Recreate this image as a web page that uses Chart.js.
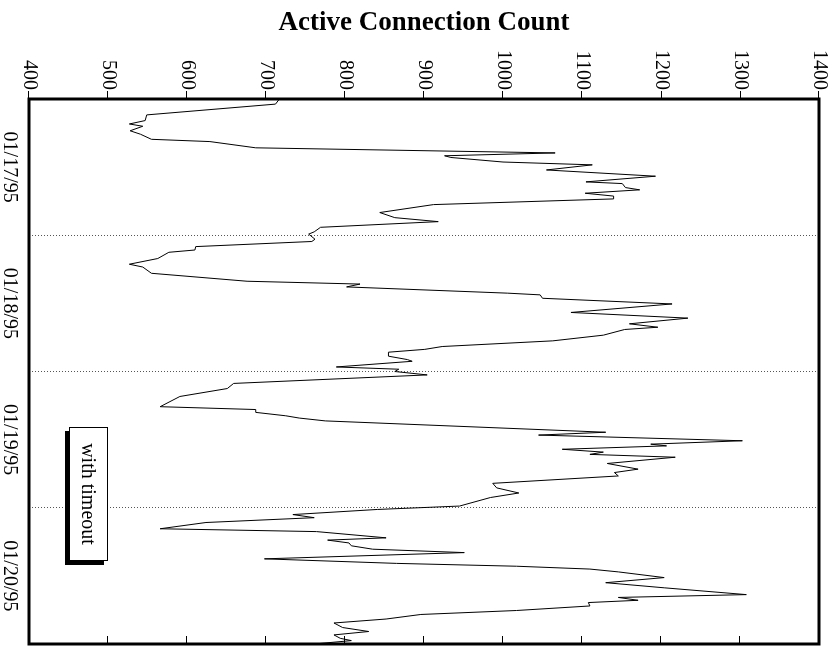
<!DOCTYPE html>
<html>
<head>
<meta charset="utf-8">
<title>Active Connection Count</title>
<script src="https://cdn.jsdelivr.net/npm/chart.js@4.4.1/dist/chart.umd.min.js"></script>
<style>
  html, body { margin: 0; padding: 0; background: #fff; overflow: hidden; }
  /* the chart is drawn upright and then turned a quarter clockwise */
  #wrap {
    position: absolute; left: 0; top: 0;
    width: 647px; height: 833px;
    transform-origin: 0 0;
    transform: translateX(833px) rotate(90deg);
  }
</style>
</head>
<body>
<div id="wrap"><canvas id="connChart" width="647" height="833"></canvas></div>
<script>
// hours since 01/17/95 00:00
const hours = [
  0.0, 0.9, 2.8, 3.8, 4.4, 4.8, 5.6, 6.2, 7.1, 7.5, 8.6, 9.5, 10.0, 10.3, 11.1, 11.6,
  12.5, 13.6, 14.6, 14.9, 15.6, 16.0, 16.6, 17.1, 17.6, 18.6, 20.0, 20.9, 21.6, 22.6,
  23.4, 23.8, 24.7, 25.1, 26.0, 26.6, 27.0, 28.1, 29.1, 29.6, 30.7, 32.1, 32.6, 33.1,
  34.2, 34.5, 35.1, 36.1, 37.6, 38.6, 39.6, 40.2, 40.6, 41.6, 42.6, 43.6, 44.1, 44.6,
  45.3, 45.9, 46.2, 47.2, 47.6, 48.0, 48.6, 50.1, 51.0, 52.4, 54.2, 54.7, 55.2, 55.8,
  56.2, 56.7, 58.7, 59.2, 60.2, 60.8, 61.1, 61.7, 62.2, 62.6, 63.1, 64.2, 65.2, 65.8,
  66.4, 67.7, 68.5, 69.4, 70.2, 71.7, 72.3, 73.2, 73.75, 74.6, 75.7, 76.2, 77.3, 77.7,
  78.2, 78.7, 79.3, 79.9, 81.0, 81.8, 82.3, 82.8, 83.3, 84.3, 85.2, 86.1, 87.3, 87.8,
  88.3, 88.7, 89.3, 90.1, 90.8, 91.6, 92.3, 93.1, 93.8, 94.4, 95.0, 95.4, 96.0
];
const counts = [
  717, 712, 549, 547, 527, 544, 528, 541, 555, 629, 687, 1066, 926, 934, 1000, 1113,
  1055, 1193, 1105, 1151, 1155, 1173, 1104, 1140, 1140, 912, 844, 863, 918, 769,
  761, 754, 762, 758, 611, 610, 577, 563, 527, 544, 555, 676, 819, 802,
  1006, 1047, 1050, 1214, 1086, 1234, 1160, 1196, 1154, 1127, 1063, 923, 901, 855,
  855, 879, 885, 789, 868, 863, 904, 659, 651, 591, 566, 687, 687, 725,
  742, 775, 1130, 1045, 1303, 1187, 1207, 1075, 1127, 1110, 1218, 1132, 1171, 1141,
  1146, 987, 992, 1020, 984, 945, 841, 734, 761, 624, 566, 764, 852, 778,
  805, 808, 835, 951, 698, 865, 1017, 1110, 1146, 1204, 1130, 1204, 1308, 1146,
  1171, 1108, 1110, 1017, 896, 852, 786, 797, 830, 786, 794, 808, 761
];
const dayLabels = ["01/17/95", "01/18/95", "01/19/95", "01/20/95"];
const countTicks = [400, 500, 600, 700, 800, 900, 1000, 1100, 1200, 1300, 1400];
const legendText = "with timeout";

const serif = "'Liberation Serif', 'Times New Roman', serif";

// frame, inner ticks on the far side and the boxed label
const framePlugin = {
  id: "frame",
  afterDraw(chart) {
    const { ctx, chartArea: a } = chart;
    const yScale = chart.scales.y;
    ctx.save();
    ctx.strokeStyle = "#000";
    ctx.lineWidth = 1;
    ctx.beginPath();
    countTicks.slice(1, -1).forEach(v => {
      const py = Math.round(yScale.getPixelForValue(v)) + 0.5;
      ctx.moveTo(a.right - 8, py);
      ctx.lineTo(a.right, py);
    });
    ctx.stroke();

    ctx.lineWidth = 3;
    ctx.strokeRect(a.left, a.top, a.right - a.left, a.bottom - a.top);

    // key box with drop shadow
    const bx = 427, by = 725, bw = 134, bh = 39;
    ctx.fillStyle = "#000";
    ctx.fillRect(bx + 4, by + 4, bw, bh);
    ctx.fillStyle = "#fff";
    ctx.fillRect(bx, by, bw, bh);
    ctx.lineWidth = 1;
    ctx.strokeRect(bx + 0.5, by + 0.5, bw - 1, bh - 1);
    ctx.fillStyle = "#000";
    ctx.font = "20px " + serif;
    ctx.textAlign = "center";
    ctx.textBaseline = "middle";
    ctx.fillText(legendText, bx + bw / 2, by + bh / 2 + 1);
    ctx.restore();
  }
};

new Chart(document.getElementById("connChart"), {
  type: "scatter",
  data: {
    datasets: [{
      label: legendText,
      data: hours.map((h, i) => ({ x: h, y: counts[i] })),
      showLine: true,
      borderColor: "#000",
      borderWidth: 1,
      pointRadius: 0,
      tension: 0
    }]
  },
  options: {
    responsive: false,
    animation: false,
    events: [],
    layout: { padding: { top: 14, right: 3, bottom: 0, left: 0 } },
    plugins: { legend: { display: false }, tooltip: { enabled: false } },
    scales: {
      x: {
        type: "linear",
        position: "bottom",
        min: 0,
        max: 96,
        grid: { display: false },
        border: { display: false },
        afterBuildTicks: s => { s.ticks = dayLabels.map((_, i) => ({ value: i * 24 + 12 })); },
        afterFit: s => { s.height = 29; },
        ticks: {
          autoSkip: false,
          maxRotation: 0,
          padding: 0,
          color: "#000",
          font: { family: serif, size: 20 },
          callback: v => dayLabels[Math.floor(v / 24)]
        }
      },
      days: {
        type: "linear",
        position: "bottom",
        min: 0,
        max: 96,
        afterBuildTicks: s => { s.ticks = [24, 48, 72].map(v => ({ value: v })); },
        afterFit: s => { s.height = 0; },
        ticks: { display: false },
        grid: { drawTicks: false, color: "#555", lineWidth: 1 },
        border: { display: false, dash: [1, 2] }
      },
      y: {
        min: 400,
        max: 1400,
        afterBuildTicks: s => { s.ticks = countTicks.map(v => ({ value: v })); },
        afterFit: s => { s.width = 99; },
        grid: { drawOnChartArea: false, drawTicks: true, tickLength: 8, tickColor: "#000", tickWidth: 1 },
        border: { display: false },
        ticks: {
          padding: 1,
          color: "#000",
          font: { family: serif, size: 20 },
          callback: v => String(v)
        },
        title: {
          display: true,
          text: "Active Connection Count",
          color: "#000",
          font: { family: serif, size: 27, weight: "bold" },
          padding: { top: 7, bottom: 0 }
        }
      }
    }
  },
  plugins: [framePlugin]
});
</script>
</body>
</html>
